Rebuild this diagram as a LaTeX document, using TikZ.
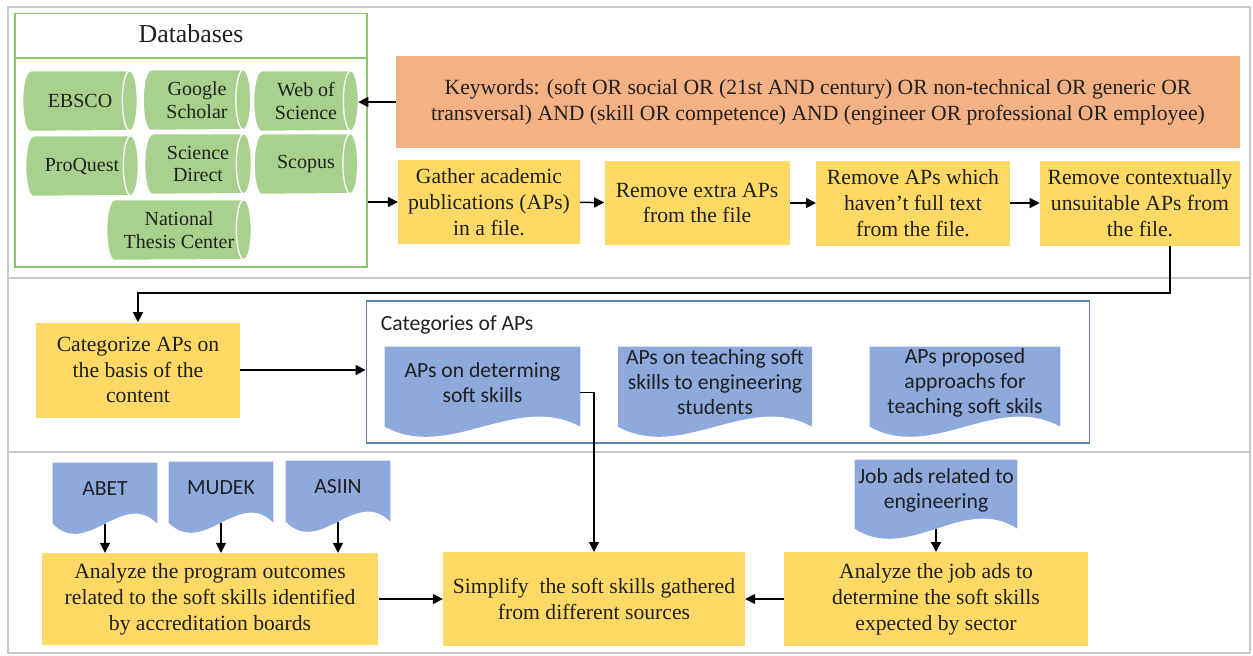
\documentclass[tikz,border=0pt]{standalone}
\usepackage{fontspec}
\setmainfont{Liberation Serif}
\newfontfamily\calibri{Carlito}
\usetikzlibrary{arrows.meta,calc,backgrounds}

\definecolor{boxyellow}{HTML}{FFD966}
\definecolor{kworange}{HTML}{F4B183}
\definecolor{dbgreen}{HTML}{A9D18E}
\definecolor{dbframe}{HTML}{8CC46E}
\definecolor{docblue}{HTML}{8EA9DB}
\definecolor{catframe}{HTML}{5A82B0}
\definecolor{lanegray}{HTML}{C8C8C8}
\definecolor{textgray}{HTML}{202020}

\tikzset{
  procbox/.style={fill=boxyellow, align=center, inner sep=1pt, text=textgray,
    font=\fontsize{13}{15.5}\selectfont},
  dbcyl/.style={align=center, inner sep=1pt, minimum height=36pt, text=textgray,
    font=\fontsize{12}{13.5}\selectfont},
  docshape/.style={align=center, inner xsep=1pt, inner ysep=0pt, text=textgray,
    font=\calibri\fontsize{13}{15}\selectfont},
  arr/.style={-{Triangle[length=6pt,width=6pt]}, line width=0.9pt}
}

\begin{document}
\begin{tikzpicture}[x=0.6pt,y=-0.6pt]
\useasboundingbox (0,0) rectangle (1253,655);

% lanes
\draw[lanegray, line width=1pt] (8,7) rectangle (1250,653);
\draw[lanegray, line width=1pt] (8,278) -- (1250,278);
\draw[lanegray, line width=1pt] (8,452) -- (1250,452);

% databases
\node[draw=dbframe, line width=1pt, minimum width=211pt, minimum height=152pt] (db) at (191,140) {};
\draw[dbframe, line width=1pt] (db.north west |- 0,58) -- (db.north east |- 0,58);
\node[font=\fontsize{15.5}{18}\selectfont, text=textgray] (dbtitle) at (191,34) {Databases};
\node[dbcyl, minimum width=68.4pt] (ebsco) at (80,101) {EBSCO};
\node[dbcyl, minimum width=64.2pt] (gs) at (197,100) {Google\\Scholar};
\node[dbcyl, minimum width=62.4pt] (wos) at (306,101) {Web of\\Science};
\node[dbcyl, minimum width=67.2pt] (pq) at (82,166) {ProQuest};
\node[dbcyl, minimum width=63.6pt] (sd) at (198,164) {Science\\Direct};
\node[dbcyl, minimum width=61.8pt] (scopus) at (306,164) {Scopus};
\node[dbcyl, minimum width=86.4pt] (ntc) at (179,230) {National\\Thesis Center};

% keywords
\node[procbox, fill=kworange, minimum width=506pt, minimum height=55pt] (kw) at (818,102)
  {Keywords: (soft OR social OR (21st AND century) OR non-technical OR generic OR\\
   transversal) AND (skill OR competence) AND (engineer OR professional OR employee)};
\draw[arr] (kw.west) -- (kw.west -| wos.east);

% first lane process
\node[procbox, minimum width=109pt, minimum height=50pt] (gather) at (489,202) {Gather academic\\publications (APs)\\in a file.};
\node[procbox, minimum width=111pt, minimum height=50pt] (rmextra) at (697,203) {Remove extra APs\\from the file};
\node[procbox, minimum width=116pt, minimum height=51pt] (rmfull) at (913,203) {Remove APs which\\haven’t full text\\from the file.};
\node[procbox, minimum width=120pt, minimum height=51pt] (rmctx) at (1140,203) {Remove contextually\\unsuitable APs from\\the file.};
\draw[arr] (db.east |- gather.west) -- (gather.west);
\draw[arr] (gather) -- (rmextra);
\draw[arr] (rmextra) -- (rmfull);
\draw[arr] (rmfull) -- (rmctx);

% second lane
\node[procbox, minimum width=122pt, minimum height=57pt] (cat) at (138,370) {Categorize APs on\\the basis of the\\content};
\draw[arr] ([xshift=18pt]rmctx.south) -- ++(0,47) -| (cat.north);
\node[draw=catframe, line width=0.9pt, minimum width=434pt, minimum height=85pt] (catbox) at (728,372) {};
\node[anchor=west, font=\calibri\fontsize{13}{15}\selectfont, text=textgray] (cattitle) at (375,325) {Categories of APs};
\draw[arr] (cat.east) -- (cat.east -| catbox.west);
\node[docshape, minimum width=117pt, minimum height=42.6pt] (det) at (482.5,382.5) {APs on determing\\soft skills};
\node[docshape, minimum width=116pt, minimum height=42.6pt] (teach) at (715,382.5) {APs on teaching soft\\skills to engineering\\students};
\node[docshape, minimum width=114pt, minimum height=42.6pt] (prop) at (965,382.5) {APs proposed\\approachs for\\teaching soft skils};

% third lane
\node[docshape, minimum width=62.4pt, minimum height=31.2pt] (abet) at (105,489) {ABET};
\node[docshape, minimum width=62.4pt, minimum height=31.2pt] (mudek) at (221,488) {MUDEK};
\node[docshape, minimum width=62.4pt, minimum height=31.2pt] (asiin) at (338,487) {ASIIN};
\node[docshape, minimum width=97.2pt, minimum height=36pt] (jobs) at (936,490) {Job ads related to\\engineering};
\node[procbox, minimum width=202pt, minimum height=55pt] (ana) at (210,599) {Analyze the program outcomes\\related to the soft skills identified\\by accreditation boards};
\node[procbox, minimum width=181pt, minimum height=56pt] (simp) at (594,599) {Simplify\ \ the soft skills gathered\\from different sources};
\node[procbox, minimum width=182pt, minimum height=56pt] (jobana) at (936,599) {Analyze the job ads to\\determine the soft skills\\expected by sector};
\draw[arr] ([yshift=-5pt]abet.south) -- (abet.south |- ana.north);
\draw[arr] ([yshift=-5pt]mudek.south) -- (mudek.south |- ana.north);
\draw[arr] ([yshift=-5pt]asiin.south) -- (asiin.south |- ana.north);
\draw[arr] ([yshift=-5pt]jobs.south) -- (jobs.south |- jobana.north);
\draw[arr] ([yshift=-6pt]det.east) -| (simp.north);
\draw[arr] (ana) -- (simp);
\draw[arr] (jobana) -- (simp);

% cylinder and document outlines behind the texts
\begin{scope}[on background layer]
\foreach \c in {ebsco,gs,wos,pq,sd,scopus,ntc}{
  \filldraw[fill=dbgreen, draw=white, line width=0.8pt]
    ([xshift=4.5pt]\c.north west) -- ([xshift=-4.5pt]\c.north east)
    arc[start angle=90, end angle=-90, x radius=4.5pt, y radius=18pt]
    -- ([xshift=4.5pt]\c.south west)
    arc[start angle=270, end angle=90, x radius=4.5pt, y radius=18pt] -- cycle;
  \draw[white, line width=0.8pt] ([xshift=-4.5pt]\c.north east)
    arc[start angle=90, end angle=270, x radius=4.5pt, y radius=18pt];
}
\foreach \d in {det,teach,prop,abet,mudek,asiin,jobs}{
  \path ([yshift=-5pt]\d.south west) coordinate (wl) ([yshift=-5pt]\d.south east) coordinate (wr);
  \fill[docblue] (wl) -- (\d.north west) -- (\d.north east) -- (wr)
    .. controls ($(wr)!0.33!(wl)+(0pt,21pt)$) and ($(wr)!0.67!(wl)+(0pt,-21pt)$) .. (wl) -- cycle;
}
\end{scope}

\end{tikzpicture}
\end{document}
